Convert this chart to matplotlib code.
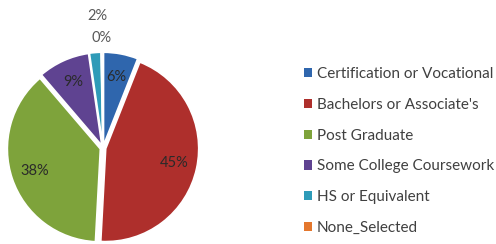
import numpy as np
import matplotlib.pyplot as plt
from matplotlib.patches import Patch

# education level shares (percent), clockwise from top
categories = ['Certification or Vocational', "Bachelors or Associate's", 'Post Graduate',
              'Some College Coursework', 'HS or Equivalent', 'None_Selected']
shares = [6.0, 45.0, 38.0, 9.0, 2.0, 0.3]
colors = ['#2f66ad', '#ae2f2c', '#7ea33b', '#5f4391', '#2e9bb8', '#e4772d']

plt.rcParams['font.family'] = ['Lato', 'DejaVu Sans']

fig = plt.figure(figsize=(4.96, 2.44), dpi=100)

# pie axes: centre at pixel (103,148), radius ~93 px
R = 93.0
cx, cy = 103.0, 148.0
ax = fig.add_axes([0, 0, 210 / 496, 1])

wedges, _ = ax.pie(shares, colors=colors, startangle=90, counterclock=False,
                   explode=[0.03] * len(shares), radius=1.0,
                   wedgeprops=dict(edgecolor='white', linewidth=1.2))
ax.set_xlim(-cx / R, (210 - cx) / R)
ax.set_ylim(-(244 - cy) / R, cy / R)
ax.axis('off')

total = sum(shares)
for w, v in zip(wedges, shares):
    ang = np.deg2rad((w.theta1 + w.theta2) / 2)
    lbl = '%.0f%%' % (v / total * 100)
    if v < 3:
        continue
    ax.text(0.78 * np.cos(ang), 0.78 * np.sin(ang), lbl, ha='center', va='center',
            fontsize=10.5, color='#2a2a2a')

# small slices labelled above the pie
ax.text(-0.06, 1.42, '%.0f%%' % (shares[4] / total * 100), ha='center', va='center',
        fontsize=10.5, color='#595959')
ax.text(-0.02, 1.18, '%.0f%%' % (shares[5] / total * 100), ha='center', va='center',
        fontsize=10.5, color='#595959')

handles = [Patch(facecolor=c, edgecolor='none') for c in colors]
fig.legend(handles, categories, loc='upper left', bbox_to_anchor=(304 / 496, 1 - 67 / 244),
           frameon=False, fontsize=11, handlelength=0.55, handleheight=0.55,
           handletextpad=0.3, labelspacing=1.1, borderpad=0, borderaxespad=0,
           labelcolor='#404040')

fig.savefig('out.png', dpi=100)
